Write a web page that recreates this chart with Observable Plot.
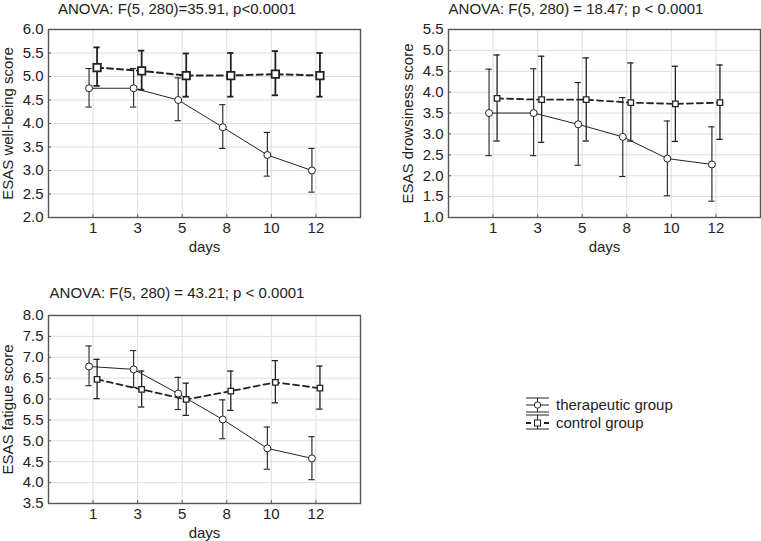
<!DOCTYPE html>
<html><head><meta charset="utf-8">
<script src="https://cdn.jsdelivr.net/npm/d3@7"></script>
<script src="https://cdn.jsdelivr.net/npm/@observablehq/plot@0.6"></script>
<style>
body{margin:0;background:#fff;font-family:"Liberation Sans",Arial,sans-serif;}
#wrap{position:relative;width:761px;height:541px;overflow:hidden;}
.panel{position:absolute;}
.title{position:absolute;font-size:15px;line-height:17px;color:#222;white-space:nowrap;transform:translateX(-50%);}
#legend{position:absolute;left:520px;top:392px;}
</style></head>
<body><div id="wrap"></div>
<script>
const days = ["1","3","5","8","10","12"];

// Well-being
const wellTherMean = [4.75, 4.75, 4.50, 3.92, 3.33, 3.00];
const wellTherLo   = [4.35, 4.35, 4.06, 3.47, 2.88, 2.54];
const wellTherHi   = [5.17, 5.17, 4.97, 4.40, 3.81, 3.47];
const wellCtrlMean = [5.19, 5.12, 5.02, 5.02, 5.05, 5.02];
const wellCtrlLo   = [4.80, 4.72, 4.57, 4.57, 4.60, 4.57];
const wellCtrlHi   = [5.62, 5.55, 5.49, 5.50, 5.54, 5.50];

// Drowsiness
const drowTherMean = [3.50, 3.50, 3.23, 2.93, 2.41, 2.27];
const drowTherLo   = [2.48, 2.48, 2.25, 1.98, 1.52, 1.39];
const drowTherHi   = [4.55, 4.56, 4.23, 3.87, 3.31, 3.17];
const drowCtrlMean = [3.85, 3.82, 3.82, 3.75, 3.72, 3.75];
const drowCtrlLo   = [2.83, 2.80, 2.83, 2.83, 2.82, 2.87];
const drowCtrlHi   = [4.89, 4.86, 4.82, 4.70, 4.62, 4.65];

// Fatigue
const fatTherMean = [6.78, 6.71, 6.13, 5.51, 4.82, 4.58];
const fatTherLo   = [6.32, 6.28, 5.75, 5.05, 4.32, 4.07];
const fatTherHi   = [7.27, 7.16, 6.52, 5.98, 5.33, 5.10];
const fatCtrlMean = [6.47, 6.23, 5.99, 6.19, 6.40, 6.26];
const fatCtrlLo   = [6.01, 5.81, 5.61, 5.73, 5.91, 5.76];
const fatCtrlHi   = [6.95, 6.67, 6.38, 6.67, 6.92, 6.79];

const wellTicks = d3.range(2.0, 6.01, 0.5);
const drowTicks = d3.range(1.0, 5.51, 0.5);
const fatTicks  = d3.range(3.5, 8.01, 0.5);

const titles = {
  well: "ANOVA: F(5, 280)=35.91, p<0.0001",
  drow: "ANOVA: F(5, 280) = 18.47; p < 0.0001",
  fat:  "ANOVA: F(5, 280) = 43.21; p < 0.0001"
};
const legendLabels = ["therapeutic group", "control group"];

function rows(mean, lo, hi, off) {
  return mean.map((m, i) => ({x: i + 1 + off, mean: m, lo: lo[i], hi: hi[i]}));
}

function panel(o) {
  const ther = rows(o.tm, o.tl, o.th, -0.09);
  const ctrl = rows(o.cm, o.cl, o.ch, 0.09);
  const xt = [1,2,3,4,5,6];
  const ink = "#222";
  const cw = o.big ? 1.8 : 1.3;
  const cap = 0.07;
  const ph = o.height - o.mt - o.mb, pw = o.width - o.ml - o.mr;
  const [y0, y1] = o.domain;
  const tkY = (y1 - y0) * 3 / ph, tkX = 7 * 3 / pw;
  return Plot.plot({
    width: o.width, height: o.height,
    marginLeft: o.ml, marginRight: o.mr, marginTop: o.mt, marginBottom: o.mb,
    style: {fontSize: "15px", fontFamily: "'Liberation Sans', Arial, sans-serif", color: "#222", background: "transparent", overflow: "visible"},
    x: {domain: [0, 7]},
    y: {domain: o.domain},
    marks: [
      Plot.gridX(xt, {stroke: "#dedede", strokeOpacity: 1}),
      Plot.gridY(o.ticks, {stroke: "#dedede", strokeOpacity: 1}),
      Plot.ruleX(xt, {x: d => d, y1: y0, y2: y0 + tkY, stroke: "#555"}),
      Plot.ruleY(o.ticks, {y: d => d, x1: 0, x2: tkX, stroke: "#555"}),
      Plot.axisX(xt, {tickSize: 0, tickPadding: 5, tickFormat: i => days[i - 1], label: "days", labelAnchor: "center", labelArrow: "none", labelOffset: 34}),
      Plot.axisY(o.ticks, {tickSize: 0, tickPadding: 5, tickFormat: d3.format(".1f"), label: o.ylabel, labelAnchor: "center", labelArrow: "none", labelOffset: 46}),
      // therapeutic error bars
      Plot.ruleX(ther, {x: "x", y1: "lo", y2: "hi", stroke: ink, strokeWidth: 1.1}),
      Plot.ruleY(ther, {y: "lo", x1: d => d.x - cap, x2: d => d.x + cap, stroke: ink, strokeWidth: 1.1}),
      Plot.ruleY(ther, {y: "hi", x1: d => d.x - cap, x2: d => d.x + cap, stroke: ink, strokeWidth: 1.1}),
      // control error bars
      Plot.ruleX(ctrl, {x: "x", y1: "lo", y2: "hi", stroke: ink, strokeWidth: cw}),
      Plot.ruleY(ctrl, {y: "lo", x1: d => d.x - cap, x2: d => d.x + cap, stroke: ink, strokeWidth: cw}),
      Plot.ruleY(ctrl, {y: "hi", x1: d => d.x - cap, x2: d => d.x + cap, stroke: ink, strokeWidth: cw}),
      Plot.line(ther, {x: "x", y: "mean", stroke: ink, strokeWidth: 1}),
      Plot.line(ctrl, {x: "x", y: "mean", stroke: ink, strokeWidth: o.big ? 2 : 1.8, strokeDasharray: "6,4"}),
      Plot.dot(ther, {x: "x", y: "mean", symbol: "circle", r: 3.5, fill: "white", stroke: ink, strokeWidth: 1}),
      Plot.dot(ctrl, {x: "x", y: "mean", symbol: "square", r: o.big ? 4.2 : 3.1, fill: "white", stroke: ink, strokeWidth: o.big ? 1.8 : 1.3}),
      Plot.frame({stroke: "#555", strokeWidth: 1.4})
    ]
  });
}

const wrap = document.getElementById("wrap");
function place(el, left, top) {
  el.classList.add("panel");
  el.style.left = left + "px"; el.style.top = top + "px";
  wrap.appendChild(el);
}
function title(text, cx, top) {
  const d = document.createElement("div");
  d.className = "title"; d.textContent = text;
  d.style.left = cx + "px"; d.style.top = top + "px";
  wrap.appendChild(d);
}

place(panel({width: 380, height: 270, ml: 48, mr: 20, mt: 29, mb: 53, domain: [2, 6], ticks: wellTicks,
  ylabel: "ESAS well-being score", tm: wellTherMean, tl: wellTherLo, th: wellTherHi,
  cm: wellCtrlMean, cl: wellCtrlLo, ch: wellCtrlHi, big: true}), 0, 0);
place(panel({width: 381, height: 270, ml: 68, mr: 1, mt: 29, mb: 53, domain: [1, 5.5], ticks: drowTicks,
  ylabel: "ESAS drowsiness score", tm: drowTherMean, tl: drowTherLo, th: drowTherHi,
  cm: drowCtrlMean, cl: drowCtrlLo, ch: drowCtrlHi}), 380, 0);
place(panel({width: 380, height: 271, ml: 48, mr: 20, mt: 45, mb: 38, domain: [3.5, 8], ticks: fatTicks,
  ylabel: "ESAS fatigue score", tm: fatTherMean, tl: fatTherLo, th: fatTherHi,
  cm: fatCtrlMean, cl: fatCtrlLo, ch: fatCtrlHi}), 0, 270);

title(titles.well, 177, 0);
title(titles.drow, 576, 0);
title(titles.fat, 177, 284);

// legend
const ns = "http://www.w3.org/2000/svg";
const lg = document.createElementNS(ns, "svg");
lg.setAttribute("id", "legend");
lg.setAttribute("width", 200); lg.setAttribute("height", 50);
lg.innerHTML = `
<g stroke="#222" fill="none">
  <line x1="6" x2="29" y1="6" y2="6"/><line x1="6" x2="29" y1="20" y2="20"/>
  <line x1="17.5" x2="17.5" y1="6" y2="20"/>
  <line x1="6" x2="29" y1="13" y2="13"/>
  <circle cx="17.5" cy="13" r="3.2" fill="white"/>
  <line x1="6" x2="29" y1="23" y2="23"/><line x1="6" x2="29" y1="37" y2="37"/>
  <line x1="17.5" x2="17.5" y1="23" y2="37"/>
  <line x1="6" x2="29" y1="31" y2="31" stroke-width="1.8" stroke-dasharray="5,4"/>
  <rect x="14.5" y="28" width="6" height="6" fill="white"/>
</g>
<text x="36" y="18" font-size="15" fill="#222" font-family="Liberation Sans, Arial">${legendLabels[0]}</text>
<text x="36" y="36" font-size="15" fill="#222" font-family="Liberation Sans, Arial">${legendLabels[1]}</text>`;
wrap.appendChild(lg);
</script></body></html>
